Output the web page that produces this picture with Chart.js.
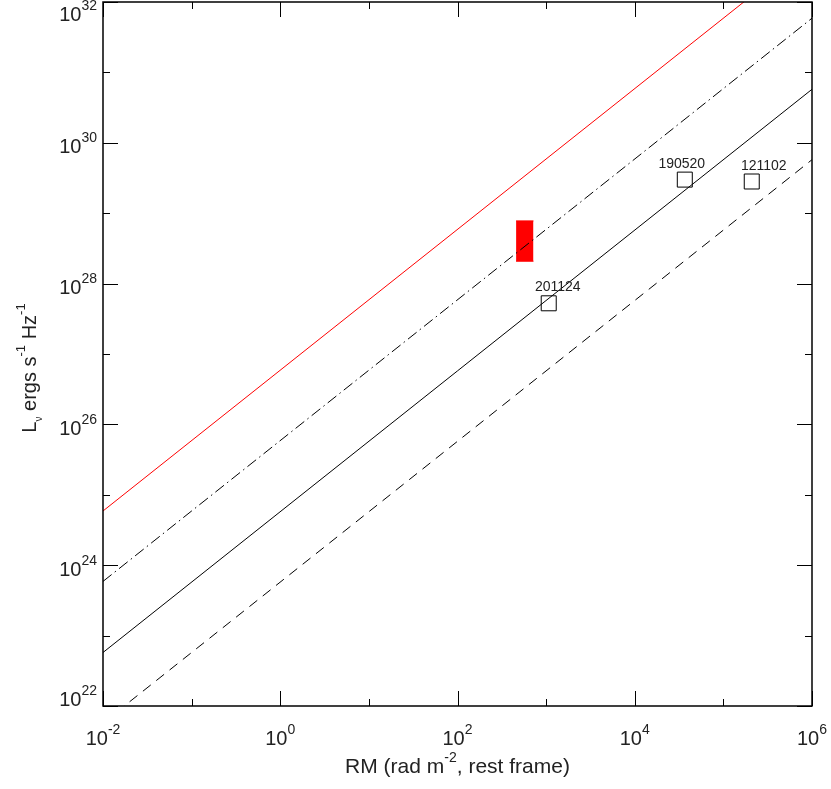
<!DOCTYPE html>
<html>
<head>
<meta charset="utf-8">
<script src="https://cdn.jsdelivr.net/npm/chart.js@4/dist/chart.umd.min.js"></script>
<style>
  body { margin: 0; background: #fff; }
  #wrap { width: 831px; height: 789px; }
</style>
</head>
<body>
<div id="wrap"><canvas id="chart"></canvas></div>
<script>
// axis range (RM in rad m^-2, L in erg s^-1 Hz^-1)
const rmRange = [0.01, 1e6];
const lRange = [1e22, 1e32];

// model lines, L at the two ends of rmRange
const redLine = [10 ** 24.77, 10 ** 32.77];
const dashDotLine = [10 ** 23.77, 10 ** 31.77];
const solidLine = [10 ** 22.76, 10 ** 30.76];
const dashedLine = [10 ** 21.76, 10 ** 29.76];

// FRBs
const frbNames = ['201124', '190520', '121102'];
const frbRM = [1070, 36700, 209000];
const frbL = [5.25e27, 3.0e29, 2.82e29];

// red box
const boxRM = [458, 720];
const boxL = [2.08e28, 7.78e28];

// tick exponents
const xTickExp = [-2, 0, 2, 4, 6];
const yTickExp = [22, 24, 26, 28, 30, 32];

const FONT = '"Liberation Sans", Arial, sans-serif';

function ends(vals) {
  return rmRange.map((x, i) => ({ x, y: vals[i] }));
}

// draw a run of text pieces; each piece {t, size, dy}
function drawPieces(ctx, pieces, x, y, align) {
  let total = 0;
  pieces.forEach(p => {
    ctx.font = p.size + 'px ' + FONT;
    p.w = ctx.measureText(p.t).width;
    total += p.w;
  });
  let cx = align === 'right' ? x - total : align === 'center' ? x - total / 2 : x;
  ctx.textAlign = 'left';
  ctx.textBaseline = 'alphabetic';
  pieces.forEach(p => {
    ctx.font = p.size + 'px ' + FONT;
    ctx.fillText(p.t, cx, y + (p.dy || 0));
    cx += p.w;
  });
}

function pow10(exp) {
  return [{ t: '10', size: 20 }, { t: String(exp), size: 14, dy: -11 }];
}

const frame = {
  id: 'frame',
  afterDraw(chart) {
    const { ctx, chartArea: a, scales: { x, y } } = chart;
    ctx.save();
    ctx.strokeStyle = '#000';
    ctx.lineWidth = 1;
    ctx.beginPath();
    for (let e = -2; e <= 6; e++) {
      const px = Math.round(x.getPixelForValue(10 ** e)) + 0.5;
      const len = e % 2 === 0 ? 15 : 7;
      ctx.moveTo(px, a.bottom); ctx.lineTo(px, a.bottom - len);
      ctx.moveTo(px, a.top); ctx.lineTo(px, a.top + len);
    }
    for (let e = 22; e <= 32; e++) {
      const py = Math.round(y.getPixelForValue(10 ** e)) + 0.5;
      const len = e % 2 === 0 ? 15 : 7;
      ctx.moveTo(a.left, py); ctx.lineTo(a.left + len, py);
      ctx.moveTo(a.right, py); ctx.lineTo(a.right - len, py);
    }
    ctx.stroke();
    ctx.lineWidth = 1.5;
    ctx.strokeRect(a.left, a.top, a.right - a.left, a.bottom - a.top);

    ctx.fillStyle = '#222';
    xTickExp.forEach(e => {
      drawPieces(ctx, pow10(e), x.getPixelForValue(10 ** e), a.bottom + 39, 'center');
    });
    yTickExp.forEach(e => {
      let base = y.getPixelForValue(10 ** e) + 10.5;
      base = Math.max(21, Math.min(706, base));
      drawPieces(ctx, pow10(e), a.left - 6, base, 'right');
    });

    // axis titles
    drawPieces(ctx, [
      { t: 'RM (rad m', size: 21 },
      { t: '-2', size: 14, dy: -11 },
      { t: ', rest frame)', size: 21 }
    ], (a.left + a.right) / 2, a.bottom + 67, 'center');

    ctx.save();
    ctx.translate(36, 368);
    ctx.rotate(-Math.PI / 2);
    drawPieces(ctx, [
      { t: 'L', size: 20 },
      { t: '\u03bd', size: 10, dy: 6 },
      { t: ' ergs s', size: 20 },
      { t: '-1', size: 13, dy: -11 },
      { t: ' Hz', size: 20 },
      { t: '-1', size: 13, dy: -11 }
    ], 0, 0, 'center');
    ctx.restore();

    // FRB labels
    const labelDx = [9, -3, 12];
    const meta = chart.getDatasetMeta(6);
    ctx.font = '14px ' + FONT;
    ctx.textAlign = 'center';
    meta.data.forEach((pt, i) => {
      ctx.fillText(frbNames[i], pt.x + labelDx[i], pt.y - 12);
    });
    ctx.restore();
  }
};

const ctx = document.getElementById('chart').getContext('2d');
new Chart(ctx, {
  type: 'scatter',
  data: {
    datasets: [
      { data: ends(redLine), showLine: true, borderColor: '#ff0000', borderWidth: 1, pointRadius: 0 },
      { data: ends(dashDotLine), showLine: true, borderColor: '#000', borderWidth: 1, pointRadius: 0, borderDash: [11, 4, 1.5, 4] },
      { data: ends(solidLine), showLine: true, borderColor: '#000', borderWidth: 1, pointRadius: 0 },
      { data: ends(dashedLine), showLine: true, borderColor: '#000', borderWidth: 1, pointRadius: 0, borderDash: [10, 7] },
      { data: boxRM.map(x => ({ x, y: boxL[0] })), showLine: true, borderColor: '#ff0000', borderWidth: 1, pointRadius: 0 },
      { data: boxRM.map(x => ({ x, y: boxL[1] })), showLine: true, borderColor: '#ff0000', borderWidth: 1, pointRadius: 0,
        fill: '-1', backgroundColor: '#ff0000' },
      { data: frbRM.map((x, i) => ({ x, y: frbL[i] })), pointStyle: 'rect', pointRadius: 10.6,
        borderColor: '#000', borderWidth: 1, backgroundColor: 'rgba(0,0,0,0)' }
    ]
  },
  options: {
    responsive: true,
    maintainAspectRatio: false,
    animation: false,
    events: [],
    layout: { autoPadding: false, padding: { left: 103, right: 19, top: 2, bottom: 83 } },
    plugins: { legend: { display: false }, tooltip: { enabled: false } },
    scales: {
      x: { type: 'logarithmic', min: rmRange[0], max: rmRange[1], display: false },
      y: { type: 'logarithmic', min: lRange[0], max: lRange[1], display: false }
    }
  },
  plugins: [frame]
});
</script>
</body>
</html>
